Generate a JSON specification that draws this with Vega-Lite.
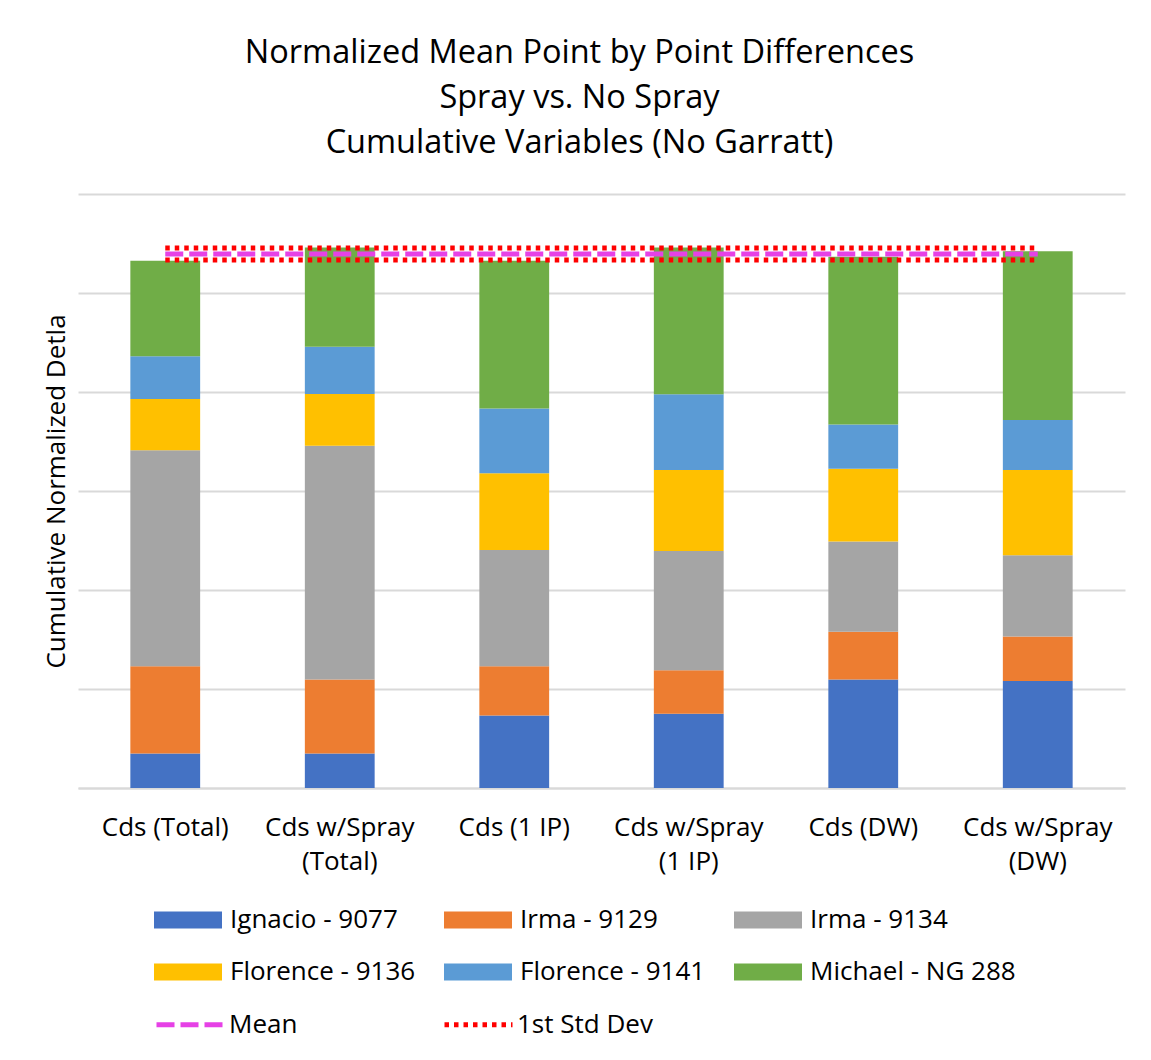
{
  "$schema": "https://vega.github.io/schema/vega-lite/v6.json",
  "width": 1047,
  "height": 594,
  "autosize": {"type": "none"},
  "padding": {"left": 78, "top": 194, "right": 26, "bottom": 272},
  "background": "white",
  "config": {
    "font": "Open Sans",
    "view": {"stroke": null},
    "legend": {"padding": 0}
  },
  "title": {
    "text": ["Normalized Mean Point by Point Differences", "Spray vs. No Spray", "Cumulative Variables (No Garratt)"],
    "fontSize": 32.5,
    "fontWeight": "normal",
    "color": "#000000",
    "lineHeight": 45,
    "anchor": "middle",
    "dx": -22,
    "offset": 35
  },
  "datasets": {
    "bars": [
      {"cat": "Cds (Total)", "series": "Ignacio - 9077", "k": 1, "value": 0.348},
      {"cat": "Cds (Total)", "series": "Irma - 9129", "k": 2, "value": 0.881},
      {"cat": "Cds (Total)", "series": "Irma - 9134", "k": 3, "value": 2.183},
      {"cat": "Cds (Total)", "series": "Florence - 9136", "k": 4, "value": 0.517},
      {"cat": "Cds (Total)", "series": "Florence - 9141", "k": 5, "value": 0.432},
      {"cat": "Cds (Total)", "series": "Michael - NG 288", "k": 6, "value": 0.965},
      {"cat": "Cds w/Spray (Total)", "series": "Ignacio - 9077", "k": 1, "value": 0.348},
      {"cat": "Cds w/Spray (Total)", "series": "Irma - 9129", "k": 2, "value": 0.749},
      {"cat": "Cds w/Spray (Total)", "series": "Irma - 9134", "k": 3, "value": 2.359},
      {"cat": "Cds w/Spray (Total)", "series": "Florence - 9136", "k": 4, "value": 0.525},
      {"cat": "Cds w/Spray (Total)", "series": "Florence - 9141", "k": 5, "value": 0.476},
      {"cat": "Cds w/Spray (Total)", "series": "Michael - NG 288", "k": 6, "value": 1.002},
      {"cat": "Cds (1 IP)", "series": "Ignacio - 9077", "k": 1, "value": 0.733},
      {"cat": "Cds (1 IP)", "series": "Irma - 9129", "k": 2, "value": 0.496},
      {"cat": "Cds (1 IP)", "series": "Irma - 9134", "k": 3, "value": 1.174},
      {"cat": "Cds (1 IP)", "series": "Florence - 9136", "k": 4, "value": 0.777},
      {"cat": "Cds (1 IP)", "series": "Florence - 9141", "k": 5, "value": 0.653},
      {"cat": "Cds (1 IP)", "series": "Michael - NG 288", "k": 6, "value": 1.493},
      {"cat": "Cds w/Spray (1 IP)", "series": "Ignacio - 9077", "k": 1, "value": 0.749},
      {"cat": "Cds w/Spray (1 IP)", "series": "Irma - 9129", "k": 2, "value": 0.440},
      {"cat": "Cds w/Spray (1 IP)", "series": "Irma - 9134", "k": 3, "value": 1.206},
      {"cat": "Cds w/Spray (1 IP)", "series": "Florence - 9136", "k": 4, "value": 0.817},
      {"cat": "Cds w/Spray (1 IP)", "series": "Florence - 9141", "k": 5, "value": 0.765},
      {"cat": "Cds w/Spray (1 IP)", "series": "Michael - NG 288", "k": 6, "value": 1.482},
      {"cat": "Cds (DW)", "series": "Ignacio - 9077", "k": 1, "value": 1.097},
      {"cat": "Cds (DW)", "series": "Irma - 9129", "k": 2, "value": 0.481},
      {"cat": "Cds (DW)", "series": "Irma - 9134", "k": 3, "value": 0.913},
      {"cat": "Cds (DW)", "series": "Florence - 9136", "k": 4, "value": 0.733},
      {"cat": "Cds (DW)", "series": "Florence - 9141", "k": 5, "value": 0.448},
      {"cat": "Cds (DW)", "series": "Michael - NG 288", "k": 6, "value": 1.694},
      {"cat": "Cds w/Spray (DW)", "series": "Ignacio - 9077", "k": 1, "value": 1.081},
      {"cat": "Cds w/Spray (DW)", "series": "Irma - 9129", "k": 2, "value": 0.449},
      {"cat": "Cds w/Spray (DW)", "series": "Irma - 9134", "k": 3, "value": 0.821},
      {"cat": "Cds w/Spray (DW)", "series": "Florence - 9136", "k": 4, "value": 0.861},
      {"cat": "Cds w/Spray (DW)", "series": "Florence - 9141", "k": 5, "value": 0.504},
      {"cat": "Cds w/Spray (DW)", "series": "Michael - NG 288", "k": 6, "value": 1.706}
    ],
    "lines": [
      {"cat": "Cds (Total)", "type": "Mean", "id": "mean", "value": 5.394},
      {"cat": "Cds w/Spray (Total)", "type": "Mean", "id": "mean", "value": 5.394},
      {"cat": "Cds (1 IP)", "type": "Mean", "id": "mean", "value": 5.394},
      {"cat": "Cds w/Spray (1 IP)", "type": "Mean", "id": "mean", "value": 5.394},
      {"cat": "Cds (DW)", "type": "Mean", "id": "mean", "value": 5.394},
      {"cat": "Cds w/Spray (DW)", "type": "Mean", "id": "mean", "value": 5.394},
      {"cat": "Cds (Total)", "type": "1st Std Dev", "id": "upper", "value": 5.455},
      {"cat": "Cds w/Spray (Total)", "type": "1st Std Dev", "id": "upper", "value": 5.455},
      {"cat": "Cds (1 IP)", "type": "1st Std Dev", "id": "upper", "value": 5.455},
      {"cat": "Cds w/Spray (1 IP)", "type": "1st Std Dev", "id": "upper", "value": 5.455},
      {"cat": "Cds (DW)", "type": "1st Std Dev", "id": "upper", "value": 5.455},
      {"cat": "Cds w/Spray (DW)", "type": "1st Std Dev", "id": "upper", "value": 5.455},
      {"cat": "Cds (Total)", "type": "1st Std Dev", "id": "lower", "value": 5.333},
      {"cat": "Cds w/Spray (Total)", "type": "1st Std Dev", "id": "lower", "value": 5.333},
      {"cat": "Cds (1 IP)", "type": "1st Std Dev", "id": "lower", "value": 5.333},
      {"cat": "Cds w/Spray (1 IP)", "type": "1st Std Dev", "id": "lower", "value": 5.333},
      {"cat": "Cds (DW)", "type": "1st Std Dev", "id": "lower", "value": 5.333},
      {"cat": "Cds w/Spray (DW)", "type": "1st Std Dev", "id": "lower", "value": 5.333}
    ]
  },
  "encoding": {
    "x": {
      "field": "cat",
      "type": "nominal",
      "sort": ["Cds (Total)", "Cds w/Spray (Total)", "Cds (1 IP)", "Cds w/Spray (1 IP)", "Cds (DW)", "Cds w/Spray (DW)"],
      "scale": {"paddingInner": 0.6, "paddingOuter": 0.3},
      "axis": {
        "title": null,
        "labelAngle": 0,
        "labelFontSize": 26,
        "labelColor": "#000000",
        "labelPadding": 26,
        "labelLineHeight": 34,
        "labelLimit": 300,
        "labelExpr": "indexof(datum.label, 'w/Spray') >= 0 ? [slice(datum.label, 0, 11), slice(datum.label, 12)] : datum.label",
        "ticks": false,
        "domain": true,
        "domainColor": "#D9D9D9",
        "domainWidth": 2
      }
    }
  },
  "layer": [
    {
      "data": {"name": "bars"},
      "mark": {"type": "bar"},
      "encoding": {
        "y": {
          "field": "value",
          "type": "quantitative",
          "stack": "zero",
          "scale": {"domain": [0, 6], "nice": false},
          "axis": {
            "title": "Cumulative Normalized Detla",
            "titleFontSize": 26,
            "titleFontWeight": "normal",
            "titleColor": "#000000",
            "titlePadding": 9,
            "labels": false,
            "ticks": false,
            "domain": false,
            "values": [0, 1, 2, 3, 4, 5, 6],
            "grid": true,
            "gridColor": "#D9D9D9",
            "gridWidth": 2
          }
        },
        "fill": {
          "field": "series",
          "type": "nominal",
          "scale": {
            "domain": ["Ignacio - 9077", "Irma - 9129", "Irma - 9134", "Florence - 9136", "Florence - 9141", "Michael - NG 288"],
            "range": ["#4472C4", "#ED7D31", "#A5A5A5", "#FFC000", "#5B9BD5", "#70AD47"]
          },
          "legend": {
            "title": null,
            "orient": "none",
            "direction": "horizontal",
            "legendX": 76,
            "legendY": 692,
            "columns": 3,
            "gridAlign": "all",
            "columnPadding": 8,
            "rowPadding": 5,
            "symbolType": "M-1,-0.25H1V0.25H-1Z",
            "symbolSize": 4624,
            "symbolStrokeWidth": 0,
            "labelFontSize": 26,
            "labelColor": "#000000",
            "labelOffset": 8,
            "labelLimit": 300
          }
        },
        "order": {"field": "k", "type": "quantitative"}
      }
    },
    {
      "data": {"name": "lines"},
      "mark": {"type": "line", "strokeWidth": 5, "strokeCap": "butt"},
      "encoding": {
        "y": {"field": "value", "type": "quantitative"},
        "detail": {"field": "id", "type": "nominal"},
        "stroke": {
          "field": "type",
          "type": "nominal",
          "scale": {"domain": ["Mean", "1st Std Dev"], "range": ["#E641E6", "#FF0000"]},
          "legend": {
            "title": null,
            "orient": "none",
            "direction": "horizontal",
            "legendX": 76,
            "legendY": 794,
            "columns": 3,
            "columnPadding": 136,
            "symbolType": "M-1,0H1",
            "symbolSize": 4624,
            "symbolStrokeWidth": 5,
            "symbolFillColor": "transparent",
            "labelFontSize": 26,
            "labelColor": "#000000",
            "labelOffset": 2,
            "labelLimit": 300
          }
        },
        "strokeDash": {
          "field": "type",
          "type": "nominal",
          "scale": {"domain": ["Mean", "1st Std Dev"], "range": [[18, 6], [4.5, 5]]},
          "legend": {
            "title": null,
            "orient": "none",
            "direction": "horizontal",
            "legendX": 76,
            "legendY": 794,
            "columns": 3,
            "columnPadding": 136,
            "symbolType": "M-1,0H1",
            "symbolSize": 4624,
            "symbolStrokeWidth": 5,
            "symbolFillColor": "transparent",
            "labelFontSize": 26,
            "labelColor": "#000000",
            "labelOffset": 2,
            "labelLimit": 300
          }
        },
        "order": {"field": "id", "type": "nominal"}
      }
    }
  ]
}
